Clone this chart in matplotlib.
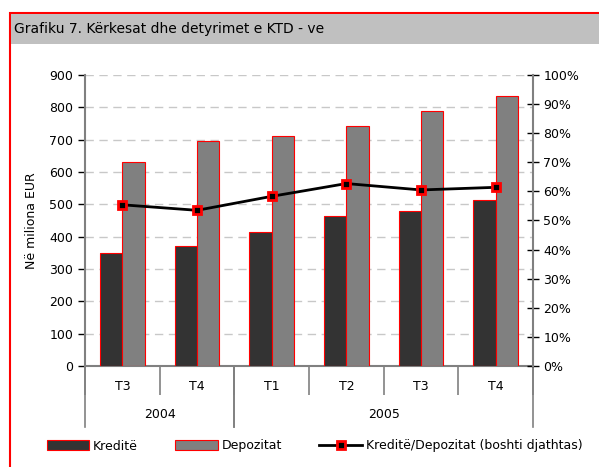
import numpy as np
import matplotlib.pyplot as plt
from matplotlib.patches import Rectangle
from matplotlib.lines import Line2D
import matplotlib.transforms as mtransforms

quarters = ['T3', 'T4', 'T1', 'T2', 'T3', 'T4']
years = ['2004', '2005']
year_spans = [(0, 2), (2, 6)]
kredite = [350, 372, 414, 465, 478, 513]
depozitat = [632, 695, 710, 742, 790, 835]
raporti = [55.4, 53.5, 58.3, 62.7, 60.5, 61.4]

plt.rcParams['font.family'] = ['DejaVu Sans']
plt.rcParams['font.size'] = 9

fig = plt.figure(figsize=(5.99, 4.67), dpi=100)

# kuadri i kuq dhe brezi gri i titullit
fig.patches.append(Rectangle((9.5 / 599, -0.1), 1.2, 1 - 12.5 / 467 + 0.1,
                             transform=fig.transFigure, fill=False,
                             edgecolor='#ff0000', linewidth=1.5, zorder=0))
fig.patches.append(Rectangle((10.5 / 599, 1 - 44 / 467), 1.0, 30 / 467,
                             transform=fig.transFigure, facecolor='#c0c0c0',
                             edgecolor='none', zorder=0))
fig.text(14 / 599, 1 - 29 / 467, 'Grafiku 7. Kërkesat dhe detyrimet e KTD - ve',
         fontsize=10, va='center', ha='left')

ax = fig.add_axes([85 / 599, 1 - 366 / 467, 448 / 599, 291 / 467])
x = np.arange(len(quarters))
w = 0.3
ax.bar(x - w / 2, kredite, w, color='#333333', edgecolor='#ff0000', linewidth=0.8,
       label='Kreditë', zorder=3)
ax.bar(x + w / 2, depozitat, w, color='#808080', edgecolor='#ff0000', linewidth=0.8,
       label='Depozitat', zorder=3)

ax.set_xlim(-0.5, len(quarters) - 0.5)
ax.set_ylim(0, 900)
ax.set_yticks(np.arange(0, 901, 100))
ax.yaxis.grid(True, linestyle=(0, (6, 4)), color='#c8c8c8', linewidth=1)
ax.set_axisbelow(True)
ax.set_ylabel('Në miliona EUR', fontsize=9, labelpad=8)

for s in ['top', 'right']:
    ax.spines[s].set_visible(False)
ax.spines['left'].set_color('#808080')
ax.spines['bottom'].set_color('#808080')
ax.spines['left'].set_linewidth(1.5)
ax.spines['bottom'].set_linewidth(1.5)
ax.tick_params(axis='y', direction='out', length=5, color='#000000', width=1)

# boshti x: kufijtë e kategorive dhe etiketat
ax.set_xticks(np.arange(-0.5, len(quarters), 1.0))
ax.set_xticklabels([])
ax.tick_params(axis='x', which='major', direction='out', length=21, color='#808080', width=1.2)
ax.set_xticks(x, minor=True)
ax.set_xticklabels(quarters, minor=True)
ax.tick_params(axis='x', which='minor', length=0, pad=10)

trans = mtransforms.blended_transform_factory(ax.transData, ax.transAxes)
for lo, hi in year_spans:
    for b in (lo - 0.5, hi - 0.5):
        ax.plot([b, b], [0, -61 / 291], transform=trans, color='#808080',
                linewidth=1.2, clip_on=False)
for (lo, hi), yr in zip(year_spans, years):
    ax.text((lo + hi - 1) / 2, -48 / 291, yr, transform=trans, ha='center', va='center')

ax2 = ax.twinx()
ax2.plot(x, raporti, color='black', linewidth=2, marker='s', markersize=6,
         markerfacecolor='black', markeredgecolor='#ff0000', markeredgewidth=2, zorder=4,
         label='Kreditë/Depozitat (boshti djathtas)')
ax2.set_ylim(0, 100)
ax2.set_yticks(np.arange(0, 101, 10))
ax2.set_yticklabels([f'{v}%' for v in range(0, 101, 10)])
for s in ['top', 'left', 'bottom']:
    ax2.spines[s].set_visible(False)
ax2.spines['right'].set_color('#808080')
ax2.spines['right'].set_linewidth(1.5)
ax2.tick_params(axis='y', direction='inout', length=8, color='#000000', width=1)

handles = [Rectangle((0, 0), 1, 1, facecolor='#333333', edgecolor='#ff0000', linewidth=0.8),
           Rectangle((0, 0), 1, 1, facecolor='#808080', edgecolor='#ff0000', linewidth=0.8),
           Line2D([], [], color='black', linewidth=2, marker='s', markersize=6,
                  markerfacecolor='black', markeredgecolor='#ff0000', markeredgewidth=2)]
labels = ['Kreditë', 'Depozitat', 'Kreditë/Depozitat (boshti djathtas)']
fig.legend(handles, labels, loc='center', bbox_to_anchor=(0.525, 1 - 446 / 467),
           ncol=3, frameon=False, handlelength=3.4, handleheight=0.8,
           columnspacing=3.0, handletextpad=0.3, fontsize=9)

fig.savefig('out.png', dpi=100)
